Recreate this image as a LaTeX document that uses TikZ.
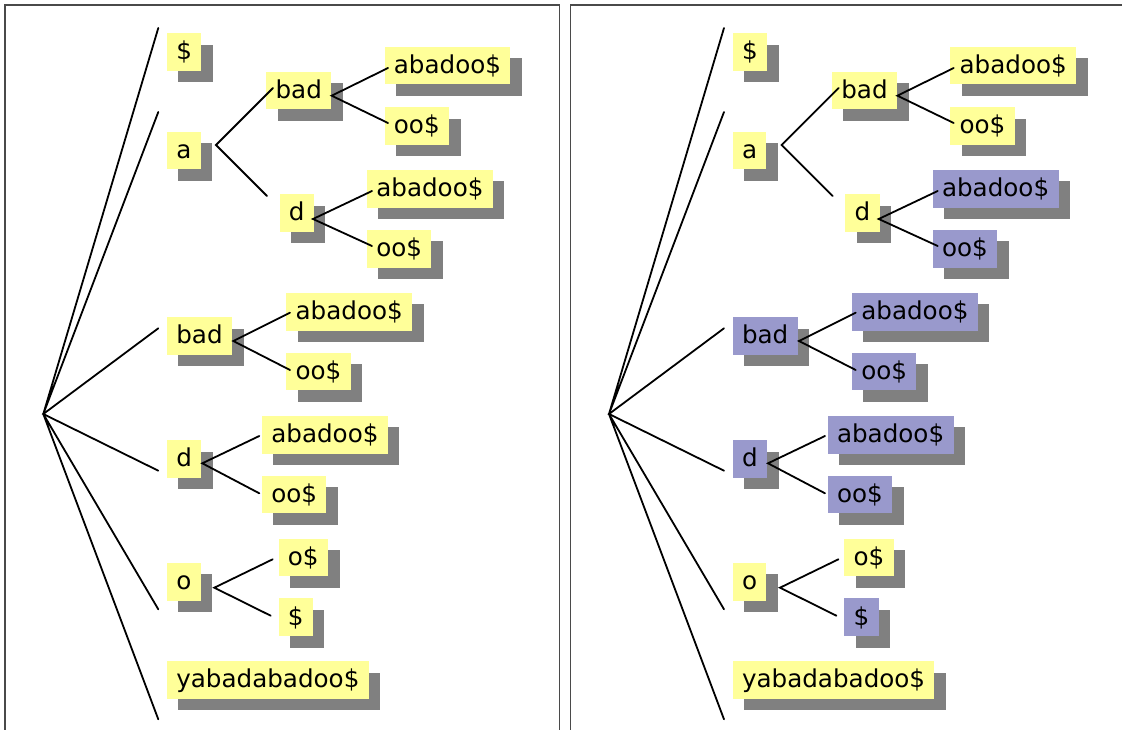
\documentclass[tikz,border=0pt]{standalone}
\usepackage{fontspec}
\setmainfont{DejaVu Sans}
\usetikzlibrary{shadows}
\definecolor{boxyellow}{HTML}{FFFF99}
\definecolor{boxblue}{HTML}{9999CC}
\definecolor{framegray}{HTML}{4A4A4A}
\tikzset{
  lbl/.style={anchor=west, inner xsep=9.4pt, inner ysep=0pt, text height=26.6pt, text depth=11pt,
    font=\fontsize{24.6}{29}\selectfont,
    drop shadow={shadow xshift=11.5pt, shadow yshift=-11.5pt, fill=gray, opacity=1}},
  ybox/.style={lbl, fill=boxyellow},
  bbox/.style={lbl, fill=boxblue},
  edgeline/.style={line width=1.8pt, line cap=round},
  frameline/.style={draw=framegray, line width=1.2pt},
  cD/.style=ybox, cA/.style=ybox, cAB/.style=ybox, cABA/.style=ybox, cABO/.style=ybox,
  cAD/.style=ybox, cADA/.style=ybox, cADO/.style=ybox, cB/.style=ybox, cBA/.style=ybox,
  cBO/.style=ybox, cDd/.style=ybox, cDA/.style=ybox, cDO/.style=ybox, cO/.style=ybox,
  cOO/.style=ybox, cOD/.style=ybox, cY/.style=ybox
}
\newcommand\mypanel[1]{%
  \draw[frameline] (5,5) rectangle (559.3,745);
  % labels
  \node[cD]   (#1D)   at (166.7,52)    {\$};
  \node[cA]   (#1A)   at (166.7,150.5) {a};
  \node[cAB]  (#1AB)  at (266,90.5)    {bad};
  \node[cABA] (#1ABA) at (384.3,65.5)  {abadoo\$};
  \node[cABO] (#1ABO) at (384.3,126)   {oo\$};
  \node[cAD]  (#1AD)  at (279.3,213)   {d};
  \node[cADA] (#1ADA) at (366.7,188.8) {abadoo\$};
  \node[cADO] (#1ADO) at (366.7,248.7) {oo\$};
  \node[cB]   (#1B)   at (166.7,336)   {bad};
  \node[cBA]  (#1BA)  at (286,311.7)   {abadoo\$};
  \node[cBO]  (#1BO)  at (286,371.3)   {oo\$};
  \node[cDd]  (#1Dd)  at (166.7,458.8) {d};
  \node[cDA]  (#1DA)  at (261.7,434.7) {abadoo\$};
  \node[cDO]  (#1DO)  at (261.7,494.5) {oo\$};
  \node[cO]   (#1O)   at (166.7,581.7) {o};
  \node[cOO]  (#1OO)  at (278.3,557.5) {o\$};
  \node[cOD]  (#1OD)  at (278.3,617.2) {\$};
  \node[cY]   (#1Y)   at (166.7,680)   {yabadabadoo\$};
  % edge points
  \coordinate (#1r)  at (43.3,414);
  \coordinate (#1e1) at (158.3,28);
  \coordinate (#1e2) at (158.3,112);
  \coordinate (#1e3) at (158.3,328.3);
  \coordinate (#1e4) at (158.3,470.7);
  \coordinate (#1e5) at (158.3,609.3);
  \coordinate (#1e6) at (158.3,719.3);
  \coordinate (#1as) at (216,145);
  \coordinate (#1ae1) at (273,88);
  \coordinate (#1ae2) at (267,196);
  \coordinate (#1abs) at (331.7,95.7);
  \coordinate (#1abe1) at (388,68);
  \coordinate (#1abe2) at (388,123);
  \coordinate (#1ads) at (313,219);
  \coordinate (#1ade1) at (372,191);
  \coordinate (#1ade2) at (372,246);
  \coordinate (#1bs) at (233.3,341);
  \coordinate (#1be1) at (290,312.7);
  \coordinate (#1be2) at (290,370);
  \coordinate (#1ds) at (202.3,463.3);
  \coordinate (#1de1) at (259.3,436);
  \coordinate (#1de2) at (259.3,493.3);
  \coordinate (#1os) at (214.3,587.7);
  \coordinate (#1oe1) at (272.7,559.3);
  \coordinate (#1oe2) at (270.7,615.7);
  % edges
  \draw[edgeline] (#1e1) -- (#1r) -- (#1e2);
  \draw[edgeline] (#1e3) -- (#1r) -- (#1e4);
  \draw[edgeline] (#1e5) -- (#1r) -- (#1e6);
  \draw[edgeline] (#1ae1) -- (#1as) -- (#1ae2);
  \draw[edgeline] (#1abe1) -- (#1abs) -- (#1abe2);
  \draw[edgeline] (#1ade1) -- (#1ads) -- (#1ade2);
  \draw[edgeline] (#1be1) -- (#1bs) -- (#1be2);
  \draw[edgeline] (#1de1) -- (#1ds) -- (#1de2);
  \draw[edgeline] (#1oe1) -- (#1os) -- (#1oe2);
}
\begin{document}
\begin{tikzpicture}[x=1pt,y=-1pt]
  \useasboundingbox (0,0) rectangle (1122,730);
  \clip (0,0) rectangle (1122,730);
  \fill[white] (0,0) rectangle (1122,730);
  \begin{scope}
    \mypanel{L}
  \end{scope}
  \begin{scope}[xshift=565.7pt, cADA/.style=bbox, cADO/.style=bbox, cB/.style=bbox,
      cBA/.style=bbox, cBO/.style=bbox, cDd/.style=bbox, cDA/.style=bbox, cDO/.style=bbox,
      cOD/.style=bbox]
    \mypanel{R}
  \end{scope}
\end{tikzpicture}
\end{document}
